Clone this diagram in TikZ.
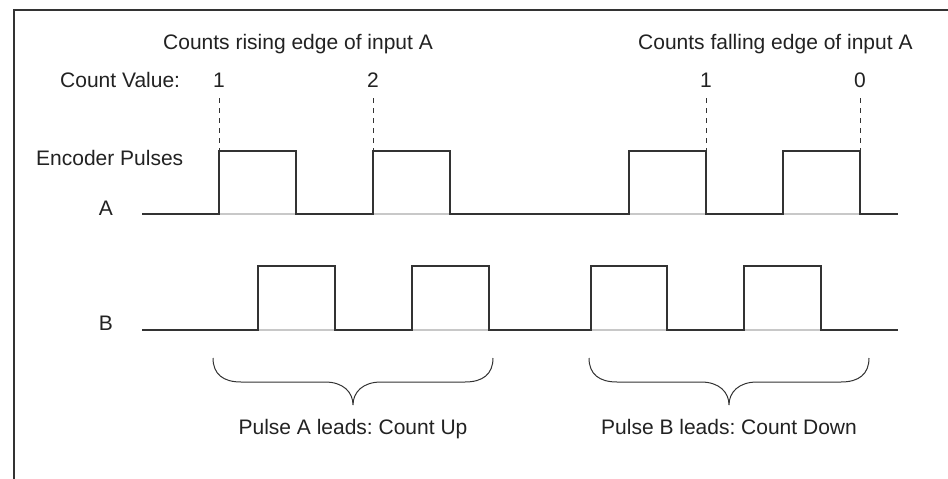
\documentclass[tikz,border=0pt]{standalone}
\usepackage{fontspec}
\setmainfont{Liberation Sans}
\frenchspacing
\definecolor{ink}{HTML}{222222}
\definecolor{wave}{HTML}{333333}
\definecolor{ghost}{HTML}{C8C8C8}
\begin{document}
\begin{tikzpicture}[x=1pt,y=-1pt,
  lbl/.style={inner sep=0pt,text=ink,font=\fontsize{21}{24}\selectfont},
  wv/.style={draw=wave,line width=1.4pt,line join=miter},
  gl/.style={draw=ghost,line width=1.4pt},
  dsh/.style={draw=wave,line width=0.9pt,dash pattern=on 5pt off 5pt},
  brc/.style={draw=wave,line width=1pt},
  frame/.style={draw=wave,line width=2.6pt}]
\useasboundingbox (0,0) rectangle (948,479);
\fill[white] (0,0) rectangle (948,479);
% frame
\coordinate (fbl) at (14,479);
\coordinate (ftl) at (14,10);
\coordinate (ftr) at (948,10);
\draw[frame] (fbl) -- (ftl) -- (ftr);
% titles
\node[lbl,anchor=base west] (t1) at (163,49) {Counts rising edge of input A};
\node[lbl,anchor=base west] (t2) at (638,49) {Counts falling edge of input A};
\node[lbl,anchor=base west] (cv) at (60,87) {Count Value:};
\node[lbl,anchor=base] (c1) at (219,87) {1};
\node[lbl,anchor=base] (c2) at (373,87) {2};
\node[lbl,anchor=base] (c3) at (706,87) {1};
\node[lbl,anchor=base] (c4) at (860,87) {0};
\node[lbl,anchor=base west] (ep) at (36,165) {Encoder Pulses};
\node[lbl,anchor=base] (la) at (106,215) {A};
\node[lbl,anchor=base] (lb) at (106,330) {B};
% dashed markers
\coordinate (d1) at (219,151);
\coordinate (d2) at (373,151);
\coordinate (d3) at (706,151);
\coordinate (d4) at (860,151);
\draw[dsh] (219,98) -- (d1);
\draw[dsh] (373,98) -- (d2);
\draw[dsh] (706,98) -- (d3);
\draw[dsh] (860,98) -- (d4);
% ghost baselines
\draw[gl] (142,214) -- (898,214);
\draw[gl] (142,330) -- (898,330);
% waveform A
\draw[wv] (142,214) -- (219,214) -- (219,151) -- (296,151) -- (296,214)
  -- (373,214) -- (373,151) -- (450,151) -- (450,214)
  -- (629,214) -- (629,151) -- (706,151) -- (706,214)
  -- (783,214) -- (783,151) -- (860,151) -- (860,214) -- (898,214);
% waveform B
\draw[wv] (142,330) -- (258,330) -- (258,266) -- (335,266) -- (335,330)
  -- (412,330) -- (412,266) -- (489,266) -- (489,330)
  -- (591,330) -- (591,266) -- (667,266) -- (667,330)
  -- (744,330) -- (744,266) -- (821,266) -- (821,330) -- (898,330);
% braces
\draw[brc] (213,358) .. controls (213,374) and (223,382) .. (241,382) -- (325,382)
  .. controls (343,382) and (353,392) .. (353,405)
  .. controls (353,392) and (363,382) .. (381,382) -- (465,382)
  .. controls (483,382) and (493,374) .. (493,358);
\draw[brc] (589,358) .. controls (589,374) and (599,382) .. (617,382) -- (701,382)
  .. controls (719,382) and (729,392) .. (729,405)
  .. controls (729,392) and (739,382) .. (757,382) -- (841,382)
  .. controls (859,382) and (869,374) .. (869,358);
\node[lbl,anchor=base] (pa) at (353,434) {Pulse A leads: Count Up};
\node[lbl,anchor=base] (pb) at (729,434) {Pulse B leads: Count Down};
\end{tikzpicture}
\end{document}
